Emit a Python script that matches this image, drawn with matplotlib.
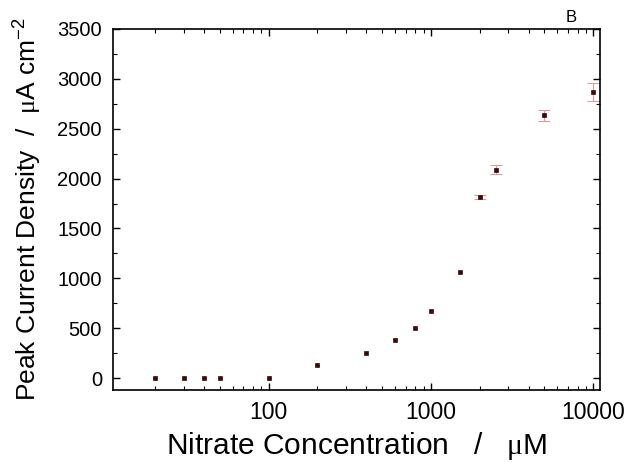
import numpy as np
import matplotlib
matplotlib.use('Agg')
import matplotlib.pyplot as plt
from matplotlib.ticker import LogLocator, MultipleLocator, NullFormatter

plt.rcParams['font.family'] = ['Liberation Sans', 'DejaVu Sans']
plt.rcParams['mathtext.fontset'] = 'custom'
plt.rcParams['mathtext.rm'] = 'Liberation Sans'
plt.rcParams['mathtext.cal'] = 'Liberation Serif'

# nitrate concentration (uM) and peak current density (uA cm^-2)
conc = [20, 30, 40, 50, 100, 200, 400, 600, 800, 1000, 1500, 2000, 2500, 5000, 10000]
current = [0, 0, 0, 0, 5, 130, 255, 380, 505, 670, 1065, 1820, 2090, 2635, 2870]
err = [0, 0, 0, 0, 0, 0, 0, 0, 0, 0, 0, 20, 45, 55, 90]

conc_a = np.array(conc)
cur_a = np.array(current)
err_a = np.array(err)
has_err = err_a > 0

fig = plt.figure(figsize=(6.3, 4.68), dpi=100)
ax = fig.add_axes([113/630, 1 - 390/468, 487/630, 361/468])

ax.errorbar(conc_a[has_err], cur_a[has_err], yerr=err_a[has_err], fmt='none',
            ecolor='#d99aa0', elinewidth=0.8, capsize=4, capthick=0.8)
ax.plot(conc, current, 's', ms=3.5, mew=0.5, mfc='#3a0a0a', mec='#3a0a0a', zorder=3)

ax.set_xscale('log')
ax.set_xlim(11, 11000)
ax.set_ylim(-120, 3500)
ax.yaxis.set_major_locator(MultipleLocator(500))
ax.yaxis.set_minor_locator(MultipleLocator(250))
ax.xaxis.set_minor_locator(LogLocator(base=10, subs=np.arange(2, 10), numticks=10))
ax.xaxis.set_minor_formatter(NullFormatter())
ax.set_xticks([100, 1000, 10000])
ax.set_xticklabels(['100', '1000', '10000'])

ax.tick_params(which='both', direction='in', top=True, right=True)
ax.tick_params(axis='y', labelsize=14.5, pad=8)
ax.tick_params(axis='x', labelsize=16.5, pad=8)
ax.tick_params(which='major', length=5, width=1)
ax.tick_params(which='minor', length=3, width=0.8)
for s in ax.spines.values():
    s.set_linewidth(1.2)

ax.set_xlabel(r'Nitrate Concentration   /   $\mathcal{μ}$M', fontsize=21.5, labelpad=4)
ax.set_ylabel(r'Peak Current Density  /  $\mathcal{μ}$A cm$^{\mathrm{-2}}$', fontsize=19, labelpad=10)
ax.text(0.94, 1.01, 'B', transform=ax.transAxes, fontsize=12, ha='center', va='bottom')

fig.savefig('out.png', dpi=100)
